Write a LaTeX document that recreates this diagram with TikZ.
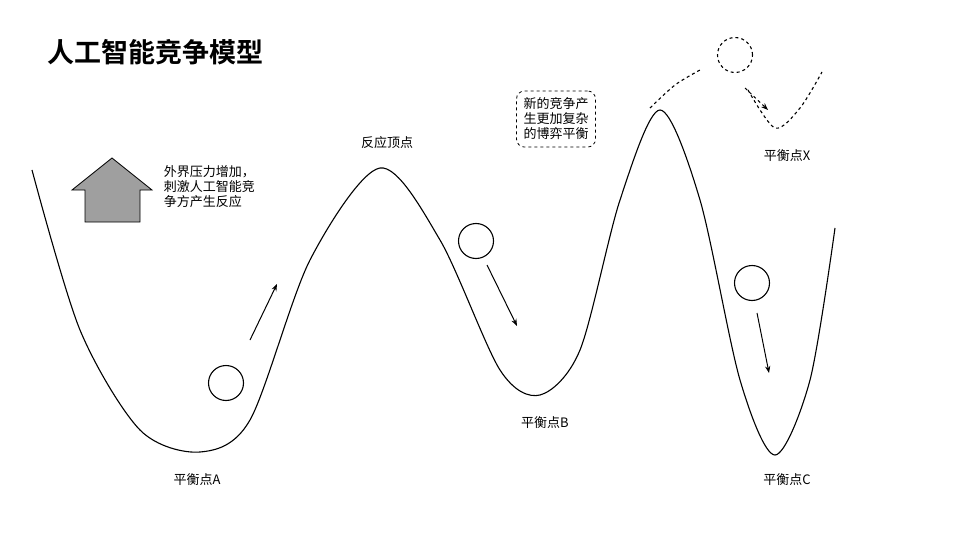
\documentclass[tikz,border=0pt]{standalone}
\usepackage{fontspec}
\setmainfont{Noto Sans CJK SC}[BoldFont={Noto Sans CJK SC Bold}]
\usetikzlibrary{arrows.meta}
\begin{document}
\begin{tikzpicture}[x=1pt,y=-1pt,line width=1.1pt]
    \tikzstyle{ball}=[circle,draw,minimum size=35pt,inner sep=0pt]
    \tikzstyle{push}=[-{Stealth[length=7pt]},line width=1pt]
    \tikzstyle{tag}=[font=\fontsize{13}{15}\selectfont]
    \useasboundingbox (0,0) rectangle (960,540);

    \node[anchor=west,font=\fontsize{27}{30}\selectfont\bfseries] (title) at (44,52) {人工智能竞争模型};

    % landscape
    \draw[smooth] plot coordinates {(32,170) (80,330) (140,430) (200,452) (250,420) (310,260)
        (380,168) (440,240) (500,370) (540,395) (580,350) (620,200) (660,110) (700,200)
        (740,380) (775,455) (810,380) (835,228)};
    \draw[dashed,smooth] plot coordinates {(650,108) (675,85) (700,70)};
    \draw[dashed,smooth] plot coordinates {(748,90) (775,128) (800,108) (822,72)};

    % balls and moves
    \node[ball] (ballA) at (226,383) {};
    \node[ball] (ballB) at (476,241) {};
    \node[ball] (ballC) at (752,283) {};
    \node[ball,dashed] (ballX) at (735,55) {};
    \coordinate (upA) at (277,284); \coordinate (downB) at (517,326);
    \coordinate (downC) at (769,373); \coordinate (downX) at (768,110);
    \draw[push] (250,340) -- (upA);
    \draw[push] (487,265) -- (downB);
    \draw[push] (757,313) -- (downC);
    \draw[push,dashed] (745,88) -- (downX);

    % labels
    \node[tag] (eqA) at (197,480) {平衡点A};
    \node[tag] (eqB) at (545,423) {平衡点B};
    \node[tag] (eqC) at (787,480) {平衡点C};
    \node[tag] (eqX) at (787,156) {平衡点X};
    \node[tag] (top) at (387,143) {反应顶点};
    \node[tag,anchor=north west,align=left] (press) at (160,162) {外界压力增加，\\刺激人工智能竞\\争方产生反应};
    \node[tag,draw,dashed,line width=0.8pt,rounded corners=8pt,align=left,inner sep=7pt] (game) at (556,119) {新的竞争产\\生更加复杂\\的博弈平衡};

    % pressure arrow
    \draw[fill=gray!75,line width=0.8pt] (85,222) -- (85,190) -- (72,190) -- (112,158) -- (152,190) -- (140,190) -- (140,222) -- cycle;
\end{tikzpicture}
\end{document}
